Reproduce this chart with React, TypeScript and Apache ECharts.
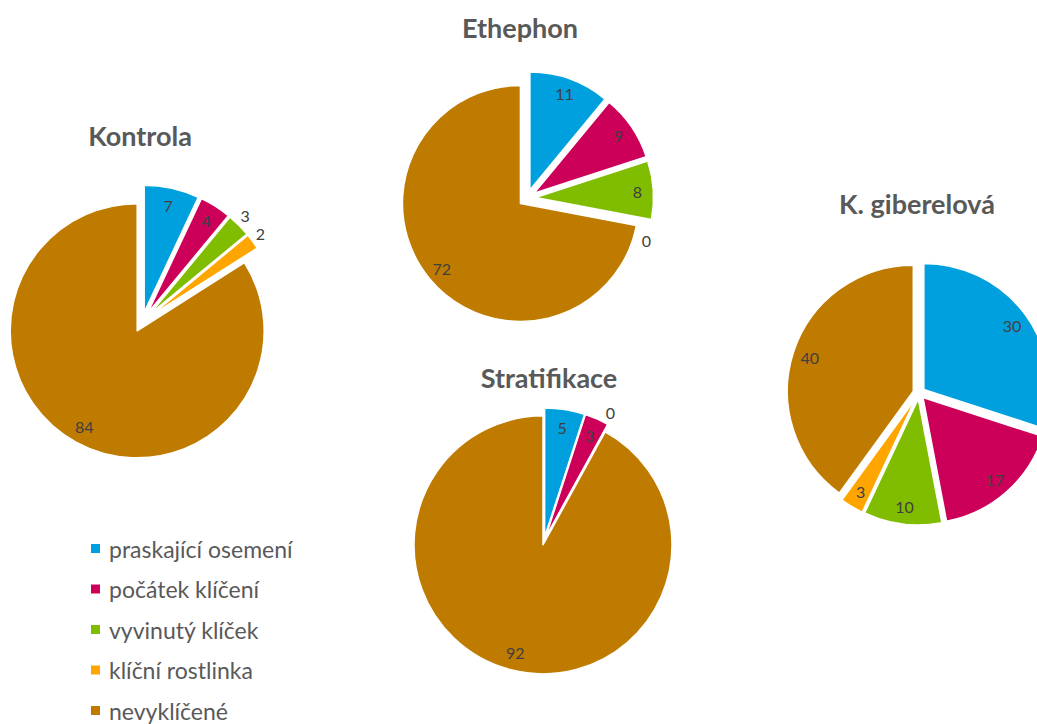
import React, { useEffect, useRef } from "react";
import * as echarts from "echarts";

const categories = [
  "praskající osemení",
  "počátek klíčení",
  "vyvinutý klíček",
  "klíční rostlinka",
  "nevyklíčené",
];
const colors = ["#00A0DF", "#CC0058", "#80BC00", "#FFA500", "#BF7B00"];

const kontrola: (number | null)[] = [7, 4, 3, 2, 84];
const ethephon: (number | null)[] = [11, 9, 8, 0, 72];
const stratifikace: (number | null)[] = [5, 3, 0, null, 92];
const giberelova: (number | null)[] = [30, 17, 10, 3, 40];

const pies = [
  { title: "Kontrola", values: kontrola, center: [142, 322], r: 127, offset: 10, outside: [2, 3], outShift: [-3, 0], titlePos: [140, 135] },
  { title: "Ethephon", values: ethephon, center: [527, 198], r: 118, offset: 8.5, outside: [3], outShift: [-17, 16], titlePos: [520, 27] },
  { title: "Stratifikace", values: stratifikace, center: [544, 541], r: 129, offset: 4, outside: [2], outShift: [-4, 0], titlePos: [549, 377] },
  { title: "K. giberelová", values: giberelova, center: [919, 393], r: 126, offset: 6, outside: [] as number[], outShift: [0, 0], titlePos: [917, 203] },
];

const FONT = "Lato, 'Open Sans', sans-serif";

export default function App() {
  const ref = useRef<HTMLDivElement>(null);
  useEffect(() => {
    if (!ref.current) return;
    const chart = echarts.init(ref.current, undefined, { renderer: "svg" });
    const series: any[] = [];
    pies.forEach((p) => {
      const [sx, sy] = p.outShift;
      const outLabel: any = {
        padding: [0, sx < 0 ? -2 * sx : 0, 0, sx > 0 ? 2 * sx : 0],
      };
      if (sy !== 0) {
        outLabel.formatter = sy > 0 ? "\n{c}" : "{c}\n";
        outLabel.lineHeight = 2 * Math.abs(sy);
      }
      const mkData = (labelMode: "none" | "inside" | "outside") =>
        p.values.map((v, i) => {
          const isOut = p.outside.includes(i);
          let show = false;
          if (labelMode === "inside") show = !isOut && v !== null;
          if (labelMode === "outside") show = isOut && v !== null;
          return {
            name: categories[i],
            value: v === null ? "-" : v,
            selected: true,
            itemStyle: labelMode === "none" ? { color: colors[i] } : { color: "rgba(0,0,0,0)" },
            label: labelMode === "outside" ? { show, ...outLabel } : { show },
          };
        });
      const common = {
        type: "pie",
        center: p.center,
        startAngle: 90,
        clockwise: true,
        selectedMode: "multiple",
        selectedOffset: p.offset,
        avoidLabelOverlap: false,
        animation: false,
        emphasis: { disabled: true },
        labelLine: { show: false },
      };
      series.push({
        ...common,
        name: p.title,
        radius: [0, p.r],
        itemStyle: { borderColor: "#ffffff", borderWidth: 1.5 },
        label: { show: false },
        data: mkData("none"),
      });
      const labelStyle = {
        position: "inside",
        formatter: "{c}",
        color: "#404040",
        fontSize: 16,
        fontFamily: FONT,
      };
      series.push({
        ...common,
        name: p.title + " in",
        silent: true,
        radius: [p.r * 0.68, p.r],
        itemStyle: { borderWidth: 0 },
        label: labelStyle,
        data: mkData("inside"),
        z: 3,
      });
      series.push({
        ...common,
        name: p.title + " out",
        silent: true,
        radius: [p.r, p.r * 1.16],
        itemStyle: { borderWidth: 0 },
        label: labelStyle,
        labelLayout: { hideOverlap: false },
        data: mkData("outside"),
        z: 3,
      });
    });

    chart.setOption({
      animation: false,
      backgroundColor: "#ffffff",
      graphic: pies.map((p) => ({
        type: "text",
        x: p.titlePos[0],
        y: p.titlePos[1],
        style: {
          text: p.title,
          align: "center",
          verticalAlign: "middle",
          fill: "#595959",
          font: `bold 27px ${FONT}`,
        },
      })),
      legend: {
        orient: "vertical",
        left: 89,
        top: 537,
        height: 260,
        padding: 0,
        itemWidth: 11,
        itemHeight: 11,
        itemGap: 17.5,
        icon: "rect",
        selectedMode: false,
        textStyle: {
          fontSize: 23,
          lineHeight: 21,
          color: "#595959",
          fontFamily: FONT,
          padding: [0, 0, 0, 3],
        },
        data: categories.map((c, i) => ({ name: c, itemStyle: { color: colors[i] } })),
      },
      series,
    });
    return () => chart.dispose();
  }, []);
  return (
    <div
      ref={ref}
      style={{ position: "fixed", left: 0, top: 0, width: 1037, height: 724 }}
    />
  );
}
